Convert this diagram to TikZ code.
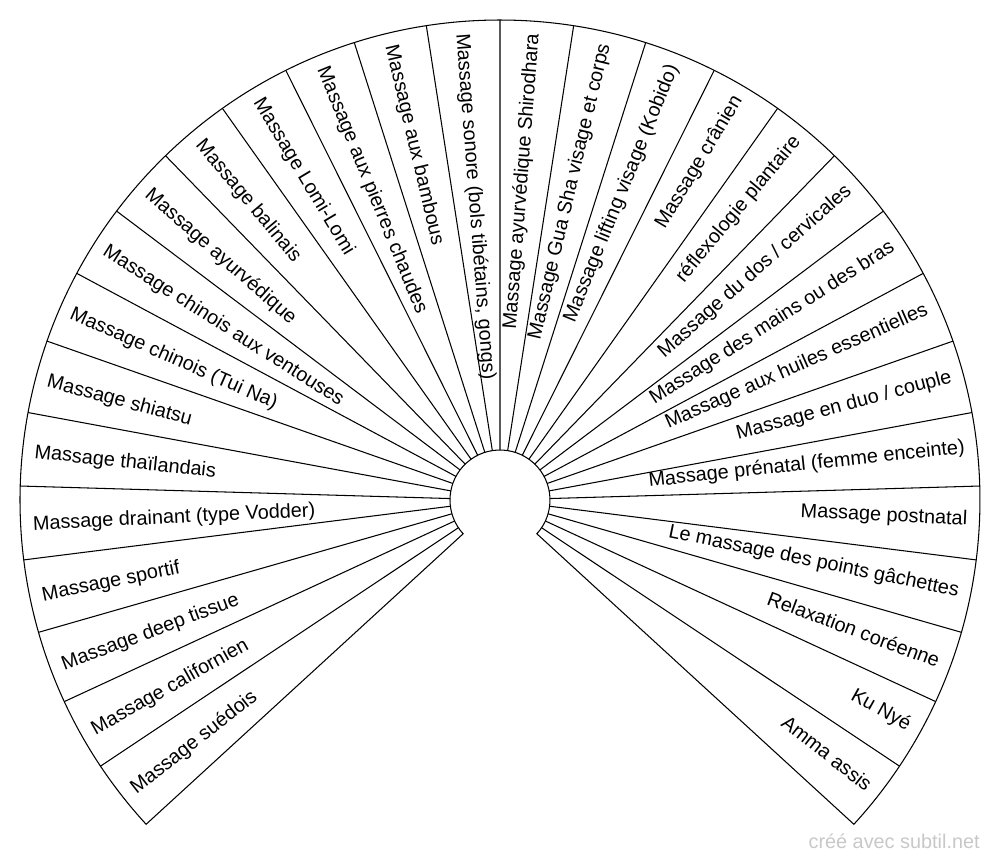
\documentclass[tikz,border=0pt]{standalone}
\usepackage{fontspec}
\setmainfont{Liberation Sans}
\usepackage{tikz}
\usepackage{xcolor}
\definecolor{credit}{RGB}{200,200,200}

\begin{document}
\begin{tikzpicture}[x=0.02cm, y=0.02cm]
	\tikzstyle{fan} = [draw=black, line width=0.6pt]
	\tikzstyle{lblL} = [inner sep=0, anchor=west, font=\fontsize{11.3}{13}\selectfont]
	\tikzstyle{lblR} = [inner sep=0, anchor=east, font=\fontsize{11.3}{13}\selectfont]
	\useasboundingbox (-500,-363) rectangle (500,500);
	\draw [fan] (222.5:480) arc [start angle=222.5, end angle=-42.5, radius=480]
		-- (-42.5:50) arc [start angle=-42.5, end angle=222.5, radius=50] -- cycle;
	\draw [fan]
			(213.67:50) -- (213.67:480)
			(204.83:50) -- (204.83:480)
			(196.00:50) -- (196.00:480)
			(187.17:50) -- (187.17:480)
			(178.33:50) -- (178.33:480)
			(169.50:50) -- (169.50:480)
			(160.67:50) -- (160.67:480)
			(151.83:50) -- (151.83:480)
			(143.00:50) -- (143.00:480)
			(134.17:50) -- (134.17:480)
			(125.33:50) -- (125.33:480)
			(116.50:50) -- (116.50:480)
			(107.67:50) -- (107.67:480)
			(98.83:50) -- (98.83:480)
			(90.00:50) -- (90.00:480)
			(81.17:50) -- (81.17:480)
			(72.33:50) -- (72.33:480)
			(63.50:50) -- (63.50:480)
			(54.67:50) -- (54.67:480)
			(45.83:50) -- (45.83:480)
			(37.00:50) -- (37.00:480)
			(28.17:50) -- (28.17:480)
			(19.33:50) -- (19.33:480)
			(10.50:50) -- (10.50:480)
			(1.67:50) -- (1.67:480)
			(-7.17:50) -- (-7.17:480)
			(-16.00:50) -- (-16.00:480)
			(-24.83:50) -- (-24.83:480)
			(-33.67:50) -- (-33.67:480);
		% left half, text read towards the centre
		\node[lblL, rotate=38.08] (suedois) at (218.38:468) {Massage suédois};
		\node[lblL, rotate=29.25] (californien) at (209.55:468) {Massage californien};
		\node[lblL, rotate=20.42] (deeptissue) at (200.72:468) {Massage deep tissue};
		\node[lblL, rotate=11.58] (sportif) at (191.88:468) {Massage sportif};
		\node[lblL, rotate=2.75] (drainant) at (183.05:468) {Massage drainant (type Vodder)};
		\node[lblL, rotate=-6.08] (thai) at (174.22:468) {Massage thaïlandais};
		\node[lblL, rotate=-14.92] (shiatsu) at (165.38:468) {Massage shiatsu};
		\node[lblL, rotate=-23.75] (tuina) at (156.55:468) {Massage chinois (Tui Na)};
		\node[lblL, rotate=-32.58] (ventouses) at (147.72:468) {Massage chinois aux ventouses};
		\node[lblL, rotate=-41.42] (ayurvedique) at (138.88:468) {Massage ayurvédique};
		\node[lblL, rotate=-50.25] (balinais) at (130.05:468) {Massage balinais};
		\node[lblL, rotate=-59.08] (lomilomi) at (121.22:468) {Massage Lomi-Lomi};
		\node[lblL, rotate=-67.92] (pierres) at (112.38:468) {Massage aux pierres chaudes};
		\node[lblL, rotate=-76.75] (bambous) at (103.55:468) {Massage aux bambous};
		\node[lblL, rotate=-85.58] (sonore) at (94.72:468) {Massage sonore (bols tibétains, gongs)};
		% right half, text read outwards
		\node[lblR, rotate=85.58] (shirodhara) at (85.88:468) {Massage ayurvédique Shirodhara};
		\node[lblR, rotate=76.75] (guasha) at (77.05:468) {Massage Gua Sha visage et corps};
		\node[lblR, rotate=67.92] (kobido) at (68.22:468) {Massage lifting visage (Kobido)};
		\node[lblR, rotate=59.08] (cranien) at (59.38:468) {Massage crânien};
		\node[lblR, rotate=50.25] (reflexo) at (50.55:468) {réflexologie plantaire};
		\node[lblR, rotate=41.42] (dos) at (41.72:468) {Massage du dos / cervicales};
		\node[lblR, rotate=32.58] (mains) at (32.88:468) {Massage des mains ou des bras};
		\node[lblR, rotate=23.75] (huiles) at (24.05:468) {Massage aux huiles essentielles};
		\node[lblR, rotate=14.92] (duo) at (15.22:468) {Massage en duo / couple};
		\node[lblR, rotate=6.08] (prenatal) at (6.38:468) {Massage prénatal (femme enceinte)};
		\node[lblR, rotate=-2.75] (postnatal) at (-2.45:468) {Massage postnatal};
		\node[lblR, rotate=-11.58] (gachettes) at (-11.28:468) {Le massage des points gâchettes};
		\node[lblR, rotate=-20.42] (coreenne) at (-20.12:468) {Relaxation coréenne};
		\node[lblR, rotate=-29.25] (kunye) at (-28.95:468) {Ku Nyé};
		\node[lblR, rotate=-38.08] (amma) at (-37.78:468) {Amma assis};

		\node[inner sep=0, anchor=base east, text=credit, font=\fontsize{11.3}{13}\selectfont] (credit) at (480,-348) {créé avec subtil.net};
	\end{tikzpicture}
\end{document}
